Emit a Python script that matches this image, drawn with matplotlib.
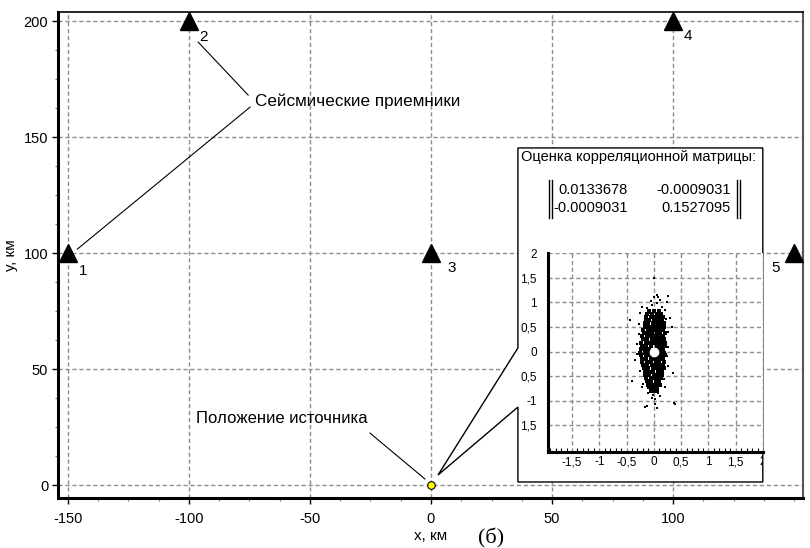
import matplotlib
matplotlib.use("Agg")
import matplotlib.pyplot as plt
from matplotlib.patches import Polygon
from matplotlib.lines import Line2D
from matplotlib.ticker import MultipleLocator, FixedLocator
from matplotlib.transforms import Bbox, TransformedBbox

plt.rcParams['font.family'] = ['Liberation Sans', 'DejaVu Sans']
plt.rcParams['axes.unicode_minus'] = False

# seismic stations (km)
st_x = [-150, -100, 0, 100, 150]
st_y = [100, 200, 100, 200, 100]
st_names = ['1', '2', '3', '4', '5']
# source position
src_x = [0]
src_y = [0]

x_ticks = [-150, -100, -50, 0, 50, 100]
y_ticks = [0, 50, 100, 150, 200]

# covariance estimate shown in the box
cov_vals = [['0.0133678', '-0.0009031'],
            ['-0.0009031', '0.1527095']]

# inset ticks (labels as printed, minus signs get cut off on some of them)
in_ticks = [-1.5, -1, -0.5, 0, 0.5, 1, 1.5, 2]
in_xlabels = ['-1,5', '-1', '-0,5', '0', '0,5', '1', '1,5', '2']
in_ylabels = ['1,5', '-1', '0,5', '0', '0,5', '1', '1,5', '2']

# error cloud (dense core)
core_y = [0.82, 0.76, 0.70, 0.63, 0.57, 0.50, 0.44, 0.38, 0.31, 0.25, 0.18,
          0.12, 0.05, -0.02, -0.08, -0.15, -0.21, -0.28, -0.34, -0.41, -0.47,
          -0.54, -0.60, -0.67, -0.73, -0.80]
core_x = [[-0.08, 0.01, 0.09],
          [-0.12, -0.04, 0.05, 0.13],
          [-0.14, -0.06, 0.02, 0.10, 0.16],
          [-0.15, -0.08, 0.0, 0.07, 0.14],
          [-0.17, -0.10, -0.02, 0.05, 0.12, 0.18],
          [-0.16, -0.09, -0.01, 0.06, 0.13, 0.19],
          [-0.19, -0.11, -0.04, 0.03, 0.10, 0.17],
          [-0.18, -0.10, -0.03, 0.05, 0.12, 0.20],
          [-0.21, -0.13, -0.05, 0.02, 0.09, 0.16],
          [-0.20, -0.12, -0.04, 0.04, 0.11, 0.19],
          [-0.23, -0.15, -0.07, 0.01, 0.08, 0.15, 0.21],
          [-0.22, -0.14, -0.06, 0.06, 0.13, 0.20],
          [-0.24, -0.16, -0.09, 0.10, 0.17],
          [-0.25, -0.17, -0.10, 0.11, 0.18],
          [-0.23, -0.15, -0.07, 0.07, 0.14, 0.20],
          [-0.22, -0.14, -0.06, 0.02, 0.09, 0.16],
          [-0.21, -0.13, -0.05, 0.03, 0.10, 0.18],
          [-0.19, -0.12, -0.04, 0.04, 0.11, 0.17],
          [-0.18, -0.10, -0.02, 0.05, 0.12, 0.19],
          [-0.17, -0.09, -0.01, 0.07, 0.14],
          [-0.16, -0.08, 0.0, 0.08, 0.15],
          [-0.14, -0.06, 0.02, 0.09, 0.13],
          [-0.13, -0.05, 0.03, 0.10],
          [-0.11, -0.04, 0.04, 0.11],
          [-0.09, -0.02, 0.05],
          [-0.06, 0.01, 0.06]]
# sparse points around the core
out_x = [0.05, 0.07, 0.26, 0.0, 0.24, -0.22, -0.13, -0.26, -0.44, 0.29, 0.20,
         0.15, -0.04, -0.07, 0.33, -0.31, -0.35, -0.40, -0.22, -0.13, 0.35,
         0.20, 0.11, -0.04, 0.02, 0.05, -0.13, 0.38, 0.02, 0.0, 0.37, -0.16,
         -0.28, 0.25, -0.30, 0.24, 0.26, -0.27, 0.22, -0.20, 0.18, -0.25,
         0.25, 0.05, -0.05, 0.12, -0.10, 0.08, -0.01]
out_y = [1.14, 1.10, 1.12, 1.10, 1.00, 0.90, 0.88, 0.78, 0.63, 0.69, 0.84,
         0.90, 0.94, 0.78, 0.49, 0.16, -0.18, -0.59, -0.73, -0.63, -0.43,
         -0.73, -0.90, -0.94, -1.06, -1.14, -1.10, -1.06, -0.96, 1.49, -1.04,
         -1.12, 0.35, 0.40, -0.05, -0.10, 0.10, 0.55, 0.65, -0.65, -0.55,
         -0.40, -0.30, 0.98, 1.02, 1.05, -0.85, -0.84, -0.88]

W, H = 810, 548
fig = plt.figure(figsize=(W / 100, H / 100), dpi=100)


def fx(px):
    return px / W


def fy(py):
    return 1 - py / H


grid_kw = dict(color='#8c8c8c', linestyle=(0, (3, 2)), linewidth=1.0)

ax = fig.add_axes([fx(58), fy(498), fx(803) - fx(58), fy(12) - fy(498)])
ax.set_xlim(-154, 153.6)
ax.set_ylim(-5.6, 203.9)
ax.xaxis.set_major_locator(FixedLocator(x_ticks))
ax.yaxis.set_major_locator(FixedLocator(y_ticks))
ax.xaxis.set_minor_locator(MultipleLocator(12.5))
ax.yaxis.set_minor_locator(MultipleLocator(12.5))
ax.tick_params(which='major', direction='out', length=4, width=1, labelsize=10.5)
ax.tick_params(axis='x', which='major', pad=6)
ax.tick_params(axis='y', which='major', pad=3)
ax.tick_params(which='minor', direction='out', length=2, width=0.8, color='#777777')
ax.set_axisbelow(True)
ax.grid(True, which='major', **grid_kw)
ax.spines['left'].set_linewidth(2.2)
ax.spines['bottom'].set_linewidth(2.2)
ax.spines['top'].set_linewidth(1.2)
ax.spines['right'].set_linewidth(1.5)
ax.spines['right'].set_color('#555555')

ax.set_xlabel('x, км', fontsize=11, labelpad=2)
ax.set_ylabel('у, км', fontsize=11, labelpad=4)
fig.text(fx(478), fy(538), '(б)', fontsize=16, family=['Liberation Serif'], va='center')

# stations
ax.plot(st_x, st_y, linestyle='none', marker='^', markersize=13, color='black',
        clip_on=False, zorder=6)
offs = [(15, -18), (15, -16), (21, -15), (15, -15), (-19, -15)]
for x, y, name, o in zip(st_x, st_y, st_names, offs):
    ax.annotate(name, (x, y), xytext=o, textcoords='offset pixels',
                ha='center', va='center', fontsize=11)

# source
ax.plot(src_x, src_y, linestyle='none', marker='o', markersize=5.5,
        markerfacecolor='#ffff00', markeredgecolor='black', markeredgewidth=0.8,
        clip_on=False, zorder=6)

# leader lines
ax.plot([-96.1, -75.5], [190.9, 168.1], color='black', lw=0.8)
ax.plot([-74.7, -146.0], [162.9, 101.7], color='black', lw=0.8)
ax.text(-72.5, 165.5, 'Сейсмические приемники', fontsize=12.3, va='center')
ax.plot([-25.2, -2.5], [22.4, 2.6], color='black', lw=0.8)
ax.text(-97, 28.5, 'Положение источника', fontsize=12, va='center')

# callout box pointing at the source
box = Polygon([(35.9, 145.3), (137.0, 145.3), (137.0, 1.3), (35.9, 1.3),
               (35.9, 33.6), (2.9, 4.3), (35.9, 59.1)], closed=True,
              facecolor='white', edgecolor='black', lw=1.0, zorder=4)
ax.add_patch(box)

fig.text(fx(521), fy(157), 'Оценка корреляционной матрицы:', fontsize=10.5,
         va='center', zorder=10)
for i, row in enumerate(cov_vals):
    yy = fy(190 + 18 * i)
    fig.text(fx(628), yy, row[0], fontsize=10.5, ha='right', va='center', zorder=10)
    fig.text(fx(731), yy, row[1], fontsize=10.5, ha='right', va='center', zorder=10)
for bx in [549, 552, 737, 740]:
    fig.add_artist(Line2D([fx(bx), fx(bx)], [fy(180), fy(218)], color='black',
                          lw=1.0, transform=fig.transFigure, zorder=10))

# inset with the error cloud
ins = fig.add_axes([fx(548), fy(452), fx(763) - fx(548), fy(253) - fy(452)])
ins.set_xlim(-1.94, 2.0)
ins.set_ylim(-2.04, 2.0)
ins.xaxis.set_major_locator(FixedLocator(in_ticks))
ins.yaxis.set_major_locator(FixedLocator(in_ticks))
ins.set_xticklabels(in_xlabels)
ins.set_yticklabels(in_ylabels)
ins.xaxis.set_minor_locator(MultipleLocator(0.1))
ins.tick_params(which='major', direction='in', length=0, labelsize=8.5)
ins.tick_params(axis='x', which='major', pad=3)
ins.tick_params(axis='y', which='major', pad=8)
ins.tick_params(axis='x', which='minor', direction='in', length=3, width=0.8)
ins.set_axisbelow(True)
ins.grid(True, which='major', **grid_kw)
for s in ['top', 'right']:
    ins.spines[s].set_visible(False)
ins.spines['left'].set_linewidth(2.2)
ins.spines['bottom'].set_linewidth(2.2)

cx, cy = [], []
for y, xs in zip(core_y, core_x):
    cx += xs
    cy += [y] * len(xs)
ins.plot(cx, cy, linestyle='none', marker='s', markersize=3.4, color='black',
         markeredgewidth=0)
ins.plot(out_x, out_y, linestyle='none', marker='s', markersize=1.8, color='black',
         markeredgewidth=0)
ins.plot([0], [0], linestyle='none', marker='o', markersize=7, color='white',
         markeredgewidth=0)

# the last x label gets cut off by the box edge
clip = TransformedBbox(Bbox([[0, 0], [fx(763), 1]]), fig.transFigure)
for lab in ins.get_xticklabels():
    lab.set_clip_box(clip)
    lab.set_clip_on(True)

fig.savefig('out.png', dpi=100)
